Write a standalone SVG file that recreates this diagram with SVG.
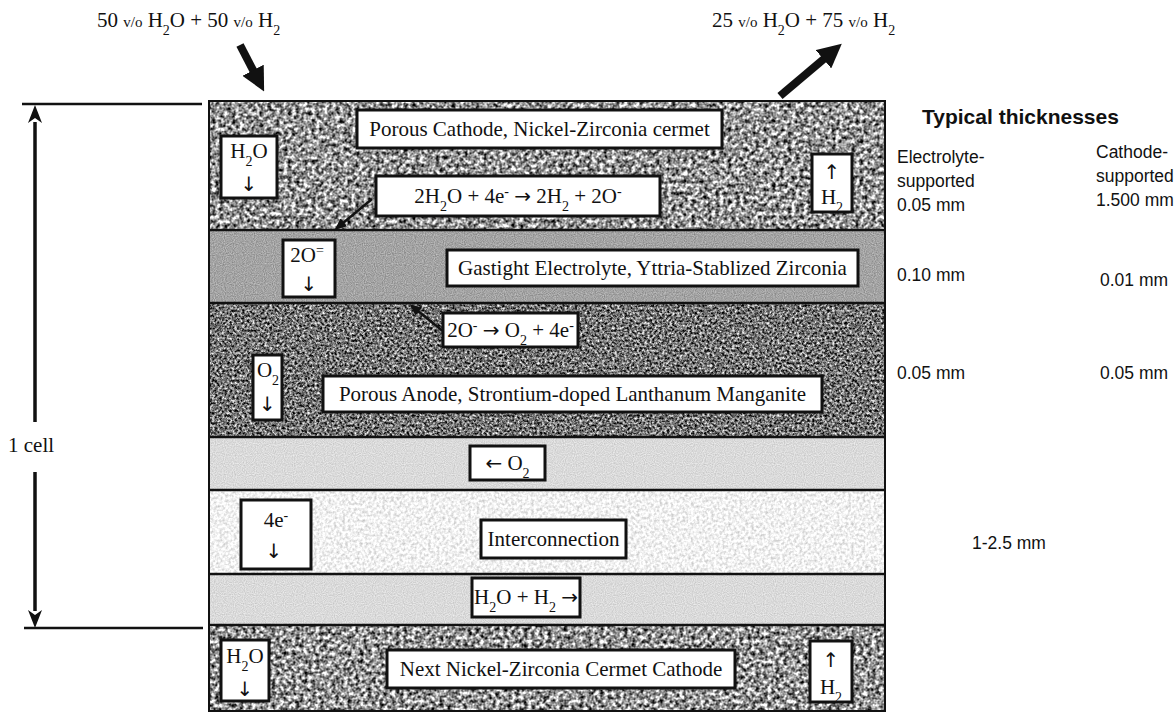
<svg xmlns="http://www.w3.org/2000/svg" width="1175" height="713" viewBox="0 0 1175 713">
<style>
.lbl{font-family:"Liberation Serif","Times New Roman",serif;font-size:21px;fill:#111;text-anchor:middle}
.top{font-family:"Liberation Serif","Times New Roman",serif;font-size:21px;fill:#111}
.vo{font-size:15px}
.ar{font-family:"DejaVu Sans",sans-serif;font-size:20px;fill:#111}
.sans{font-family:"Liberation Sans",Arial,sans-serif;font-size:17.5px;fill:#111}
.head{font-family:"Liberation Sans",Arial,sans-serif;font-size:21px;font-weight:bold;fill:#111}
.box{fill:#fff;stroke:#111;stroke-width:3}
.sep{stroke:#111;stroke-width:2.5}
.thin{stroke:#111;stroke-width:2.5;fill:none}
.thick{stroke:#111;stroke-width:8;fill:none}
.dim{stroke:#111;stroke-width:3.5;fill:none}
</style>
<defs>
<filter id="fCath" x="0" y="0" width="1" height="1" color-interpolation-filters="sRGB">
<feTurbulence type="fractalNoise" baseFrequency="0.25" numOctaves="3" seed="2"/>
<feColorMatrix type="matrix" values="1.9 0 0 0 -0.37  1.9 0 0 0 -0.37  1.9 0 0 0 -0.37  0 0 0 0 1"/>
</filter>
<filter id="fAnode" x="0" y="0" width="1" height="1" color-interpolation-filters="sRGB">
<feTurbulence type="fractalNoise" baseFrequency="0.4" numOctaves="3" seed="7"/>
<feColorMatrix type="matrix" values="1.7 0 0 0 -0.4  1.7 0 0 0 -0.4  1.7 0 0 0 -0.4  0 0 0 0 1"/>
</filter>
<filter id="fElec" x="0" y="0" width="1" height="1" color-interpolation-filters="sRGB">
<feTurbulence type="fractalNoise" baseFrequency="0.9" numOctaves="1" seed="4"/>
<feColorMatrix type="matrix" values="0.4 0 0 0 0.44  0.4 0 0 0 0.44  0.4 0 0 0 0.44  0 0 0 0 1"/>
</filter>
<filter id="fChan" x="0" y="0" width="1" height="1" color-interpolation-filters="sRGB">
<feTurbulence type="fractalNoise" baseFrequency="0.9" numOctaves="1" seed="5"/>
<feColorMatrix type="matrix" values="0.25 0 0 0 0.73  0.25 0 0 0 0.73  0.25 0 0 0 0.73  0 0 0 0 1"/>
</filter>
<filter id="fInter" x="0" y="0" width="1" height="1" color-interpolation-filters="sRGB">
<feTurbulence type="fractalNoise" baseFrequency="0.35" numOctaves="2" seed="9"/>
<feColorMatrix type="matrix" values="0.45 0 0 0 0.72  0.45 0 0 0 0.72  0.45 0 0 0 0.72  0 0 0 0 1"/>
</filter>
<marker id="bigHead" viewBox="0 0 24 24" refX="2" refY="12" markerWidth="24" markerHeight="24" markerUnits="userSpaceOnUse" orient="auto">
<path d="M0,0 L24,12 L0,24 z" fill="#111"/>
</marker>
<marker id="smallHead" viewBox="0 0 12 10" refX="1" refY="5" markerWidth="12" markerHeight="10" markerUnits="userSpaceOnUse" orient="auto">
<path d="M0,0 L12,5 L0,10 z" fill="#111"/>
</marker>
<marker id="dimHead" viewBox="0 0 18 14" refX="1" refY="7" markerWidth="18" markerHeight="14" markerUnits="userSpaceOnUse" orient="auto">
<path d="M0,0 L18,7 L0,14 L5,7 z" fill="#111"/>
</marker>
</defs>
<rect width="1175" height="713" fill="#fff"/>

<g id="layers">
<rect x="209" y="101" width="676" height="129" filter="url(#fCath)"/>
<rect x="209" y="230" width="676" height="73" filter="url(#fElec)"/>
<rect x="209" y="303" width="676" height="134" filter="url(#fAnode)"/>
<rect x="209" y="437" width="676" height="53" filter="url(#fChan)"/>
<rect x="209" y="490" width="676" height="84" filter="url(#fInter)"/>
<rect x="209" y="574" width="676" height="51" filter="url(#fChan)"/>
<rect x="209" y="625" width="676" height="86" filter="url(#fCath)"/>
<line class="sep" x1="209" y1="230" x2="885" y2="230"/>
<line class="sep" x1="209" y1="303" x2="885" y2="303"/>
<line class="sep" x1="209" y1="437" x2="885" y2="437"/>
<line class="sep" x1="209" y1="490" x2="885" y2="490"/>
<line class="sep" x1="209" y1="574" x2="885" y2="574"/>
<line class="sep" x1="209" y1="625" x2="885" y2="625"/>
<rect x="209" y="101" width="676" height="610" fill="none" stroke="#111" stroke-width="2"/>
</g>

<text class="top" x="97" y="27">50 <tspan class="vo">v/o</tspan> H<tspan font-size="14" baseline-shift="sub">2</tspan>O + 50 <tspan class="vo">v/o</tspan> H<tspan font-size="14" baseline-shift="sub">2</tspan></text>
<text class="top" x="712" y="27">25 <tspan class="vo">v/o</tspan> H<tspan font-size="14" baseline-shift="sub">2</tspan>O + 75 <tspan class="vo">v/o</tspan> H<tspan font-size="14" baseline-shift="sub">2</tspan></text>

<g id="connectors">
<line class="thick" x1="240" y1="45" x2="254" y2="72" marker-end="url(#bigHead)"/>
<line class="thick" x1="780" y1="96" x2="825" y2="58" marker-end="url(#bigHead)"/>
<line class="thin" x1="372" y1="199" x2="343" y2="223" marker-end="url(#smallHead)"/>
<line class="thin" x1="444" y1="332" x2="418" y2="311" marker-end="url(#smallHead)"/>
<line class="dim" x1="35" y1="422" x2="35" y2="122" marker-end="url(#dimHead)"/>
<line class="dim" x1="35" y1="472" x2="35" y2="611" marker-end="url(#dimHead)"/>
<line class="sep" x1="22" y1="104" x2="202" y2="104"/>
<line class="sep" x1="24" y1="628" x2="203" y2="628"/>
</g>
<text class="top" x="8" y="452">1 cell</text>

<g id="n-cathode-label"><rect class="box" x="357" y="110" width="365" height="38"/><text class="lbl" x="539.5" y="136">Porous Cathode, Nickel-Zirconia cermet</text></g>
<g id="n-h2o-in"><rect class="box" x="221" y="136" width="56" height="62"/><text class="lbl" x="249" y="158">H<tspan font-size="14" baseline-shift="sub">2</tspan>O</text><text class="lbl ar" x="249" y="191">↓</text></g>
<g id="n-cathode-reaction"><rect class="box" x="376" y="176" width="284" height="40"/><text class="lbl" x="518" y="203">2H<tspan font-size="14" baseline-shift="sub">2</tspan>O + 4e<tspan font-size="14" baseline-shift="super">-</tspan> <tspan class="ar">→</tspan> 2H<tspan font-size="14" baseline-shift="sub">2</tspan> + 2O<tspan font-size="14" baseline-shift="super">-</tspan></text></g>
<g id="n-h2-out"><rect class="box" x="812" y="154" width="40" height="58"/><text class="lbl ar" x="832" y="179">↑</text><text class="lbl" x="832" y="204">H<tspan font-size="14" baseline-shift="sub">2</tspan></text></g>
<g id="n-o2ions"><rect class="box" x="283" y="240" width="52" height="57"/><text class="lbl" x="307" y="262">2O<tspan font-size="14" baseline-shift="super">=</tspan></text><text class="lbl ar" x="309" y="291">↓</text></g>
<g id="n-electrolyte-label"><rect class="box" x="447" y="250" width="411" height="36"/><text class="lbl" x="652.5" y="275">Gastight Electrolyte, Yttria-Stablized Zirconia</text></g>
<g id="n-anode-reaction"><rect class="box" x="443" y="313" width="135" height="34"/><text class="lbl" x="510.5" y="337">2O<tspan font-size="14" baseline-shift="super">-</tspan> <tspan class="ar">→</tspan> O<tspan font-size="14" baseline-shift="sub">2</tspan> + 4e<tspan font-size="14" baseline-shift="super">-</tspan></text></g>
<g id="n-o2-down"><rect class="box" x="253" y="355" width="29" height="65"/><text class="lbl" x="268" y="377">O<tspan font-size="14" baseline-shift="sub">2</tspan></text><text class="lbl ar" x="267.5" y="411">↓</text></g>
<g id="n-anode-label"><rect class="box" x="323" y="376" width="499" height="36"/><text class="lbl" x="572.5" y="401">Porous Anode, Strontium-doped Lanthanum Manganite</text></g>
<g id="n-o2-left"><rect class="box" x="470" y="446" width="75" height="34"/><text class="lbl" x="507.5" y="470"><tspan class="ar">←</tspan> O<tspan font-size="14" baseline-shift="sub">2</tspan></text></g>
<g id="n-electrons"><rect class="box" x="241" y="500" width="70" height="69"/><text class="lbl" x="276" y="527">4e<tspan font-size="14" baseline-shift="super">-</tspan></text><text class="lbl ar" x="274" y="558">↓</text></g>
<g id="n-interconnection"><rect class="box" x="481" y="520" width="145" height="38"/><text class="lbl" x="553.5" y="546">Interconnection</text></g>
<g id="n-fuel-flow"><rect class="box" x="472" y="578" width="108" height="39"/><text class="lbl" x="526" y="604">H<tspan font-size="14" baseline-shift="sub">2</tspan>O + H<tspan font-size="14" baseline-shift="sub">2</tspan> <tspan class="ar">→</tspan></text></g>
<g id="n-h2o-in-2"><rect class="box" x="221" y="640" width="48" height="61"/><text class="lbl" x="245" y="663">H<tspan font-size="14" baseline-shift="sub">2</tspan>O</text><text class="lbl ar" x="245" y="696">↓</text></g>
<g id="n-next-cathode"><rect class="box" x="387" y="650" width="348" height="38"/><text class="lbl" x="561" y="676">Next Nickel-Zirconia Cermet Cathode</text></g>
<g id="n-h2-out-2"><rect class="box" x="810" y="641" width="42" height="61"/><text class="lbl ar" x="831" y="667">↑</text><text class="lbl" x="831" y="694">H<tspan font-size="14" baseline-shift="sub">2</tspan></text></g>

<g id="thicknesses">
<text class="head" x="922" y="124">Typical thicknesses</text>
<text class="sans" x="897" y="163">Electrolyte-</text>
<text class="sans" x="897" y="187">supported</text>
<text class="sans" x="897" y="211">0.05 mm</text>
<text class="sans" x="1096" y="158" font-size="17">Cathode-</text>
<text class="sans" x="1096" y="182" font-size="17">supported</text>
<text class="sans" x="1096" y="206" font-size="17">1.500 mm</text>
<text class="sans" x="897" y="281">0.10 mm</text>
<text class="sans" x="1100" y="286">0.01 mm</text>
<text class="sans" x="897" y="379">0.05 mm</text>
<text class="sans" x="1100" y="379">0.05 mm</text>
<text class="sans" x="972" y="549">1-2.5 mm</text>
</g>
</svg>
